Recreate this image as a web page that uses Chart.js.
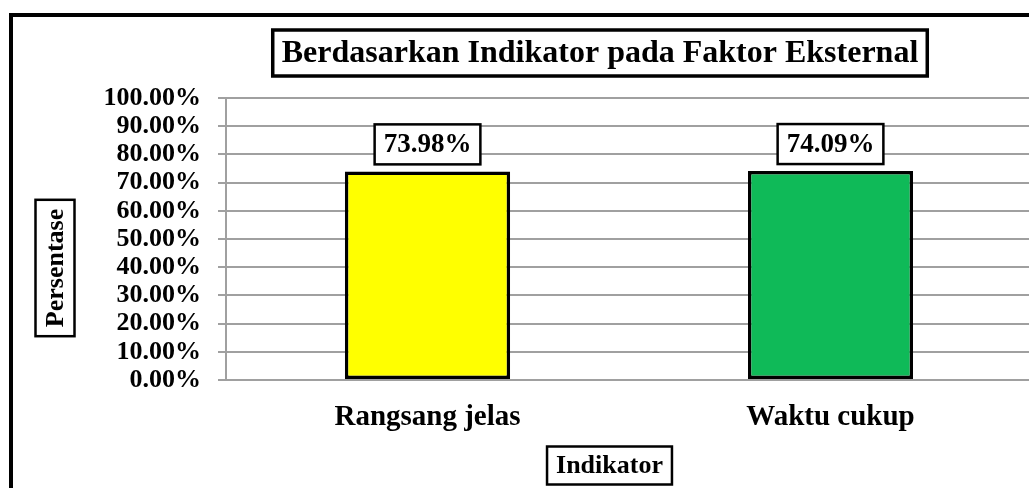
<!DOCTYPE html>
<html>
<head>
<meta charset="utf-8">
<script src="https://cdn.jsdelivr.net/npm/chart.js@4.4.1/dist/chart.umd.min.js"></script>
<style>
html,body{margin:0;padding:0;background:#fff;overflow:hidden;}
canvas{display:block;}
</style>
</head>
<body>
<canvas id="c" width="1032" height="488"></canvas>
<script>
const categories = ["Rangsang jelas", "Waktu cukup"];
const values = [73.98, 74.09];
const barColors = ["#FFFF00", "#0FBA58"];
const yTicks = [0, 10, 20, 30, 40, 50, 60, 70, 80, 90, 100];
const chartTitle = "Berdasarkan Indikator pada Faktor Eksternal";
const yTitle = "Persentase";
const xTitle = "Indikator";

const FONT = "'Liberation Serif', 'Times New Roman', serif";

function boxedText(ctx, text, cx, cy, size, padX, h, lw, rotate) {
  ctx.save();
  ctx.font = "bold " + size + "px " + FONT;
  const w = ctx.measureText(text).width + padX * 2;
  ctx.translate(cx, cy);
  if (rotate) ctx.rotate(-Math.PI / 2);
  ctx.fillStyle = "#fff";
  ctx.fillRect(-w / 2, -h / 2, w, h);
  ctx.lineWidth = lw;
  ctx.strokeStyle = "#000";
  ctx.strokeRect(-w / 2, -h / 2, w, h);
  ctx.fillStyle = "#000";
  ctx.textAlign = "center";
  ctx.textBaseline = "middle";
  ctx.fillText(text, 0, 1);
  ctx.restore();
}

const decor = {
  id: "decor",
  beforeDraw(chart) {
    const ctx = chart.ctx;
    ctx.save();
    ctx.fillStyle = "#fff";
    ctx.fillRect(0, 0, chart.width, chart.height);
    ctx.lineWidth = 4;
    ctx.strokeStyle = "#000";
    ctx.strokeRect(11, 15, chart.width + 20, chart.height + 20);
    ctx.restore();
  },
  afterDraw(chart) {
    const ctx = chart.ctx;
    boxedText(ctx, chartTitle, 600, 53, 32, 9, 46, 3.5, false);
    boxedText(ctx, yTitle, 55, 268, 26, 9, 39, 2.5, true);
    boxedText(ctx, xTitle, 609.5, 465.5, 26, 9, 38, 2.5, false);
    const meta = chart.getDatasetMeta(0);
    meta.data.forEach((bar, i) => {
      const txt = values[i].toFixed(2) + "%";
      boxedText(ctx, txt, bar.x, bar.y - 7 - 20, 27, 9, 40, 2.5, false);
    });
  }
};

new Chart(document.getElementById("c"), {
  type: "bar",
  data: {
    labels: categories,
    datasets: [{
      data: values,
      backgroundColor: barColors,
      borderColor: "#000",
      borderWidth: 3.5,
      borderSkipped: false,
      categoryPercentage: 1,
      barPercentage: 0.41
    }]
  },
  options: {
    responsive: false,
    animation: false,
    layout: { padding: { top: 98, left: 0, right: 0, bottom: 0 } },
    plugins: { legend: { display: false }, title: { display: false }, tooltip: { enabled: false } },
    scales: {
      x: {
        grid: { display: false },
        border: { display: true, color: "#a0a0a0", width: 2 },
        ticks: { color: "#000", padding: 12, font: { family: FONT, size: 29, weight: "bold" } },
        afterFit(s) { s.height = 108; }
      },
      y: {
        min: 0, max: 100,
        afterBuildTicks(s) { s.ticks = yTicks.map(v => ({ value: v })); },
        grid: { color: "#a0a0a0", lineWidth: 2, tickLength: 8 },
        border: { display: true, color: "#a0a0a0", width: 2 },
        ticks: {
          color: "#000", padding: 17, autoSkip: false,
          font: { family: FONT, size: 26, weight: "bold", lineHeight: 1 },
          callback: v => v.toFixed(2) + "%"
        },
        afterFit(s) { s.width = 226; }
      }
    }
  },
  plugins: [decor]
});
</script>
</body>
</html>
